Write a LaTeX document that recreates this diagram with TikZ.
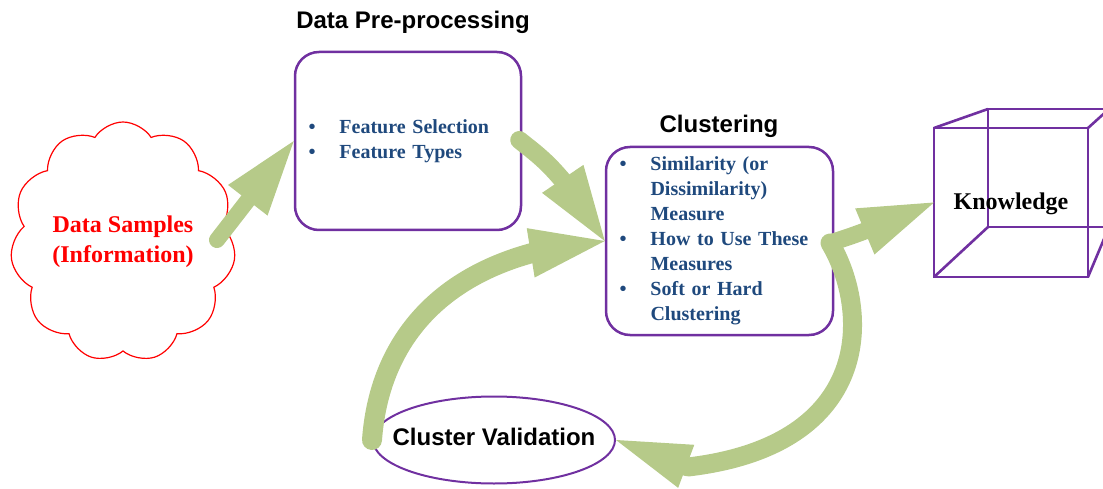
\documentclass[tikz,border=0pt]{standalone}
\usepackage{fontspec}
\setmainfont{Liberation Serif}
\newfontfamily\arialfont{Liberation Sans}
\usetikzlibrary{arrows.meta,bending,shapes.symbols,shapes.geometric,calc}
\definecolor{boxpurple}{RGB}{112,48,160}
\definecolor{txtblue}{RGB}{31,73,125}
\definecolor{arrowgreen}{RGB}{182,202,137}
\newcommand\bul{\makebox[31pt][l]{\textbullet}}
\newcommand\indt{\hspace*{31pt}}
\begin{document}
\begin{tikzpicture}[x=1pt,y=-1pt,
  box/.style={draw=boxpurple,line width=2.5pt,rounded corners=24pt,align=left,
    text=txtblue,font=\fontsize{20}{25}\selectfont\bfseries,inner xsep=13.5pt,inner ysep=0pt},
  titletext/.style={font=\arialfont\fontsize{24}{28}\selectfont\bfseries,inner sep=0pt,anchor=base},
  flow/.style={draw=arrowgreen,line cap=round,line join=round,line width=#1},
  flow/.default=18pt,
  bighead/.style={-{Triangle[length=75pt,width=50pt,line width=0pt,flex]}},
  cubeline/.style={draw=boxpurple,line width=2.6pt,line join=miter}
]
\useasboundingbox (0,0) rectangle (1103,489);
\clip (0,0) rectangle (1103,489);

% cloud
\node[cloud,draw=red,line width=1.2pt,cloud puffs=11,cloud puff arc=115,aspect=0.92,
  minimum width=221pt,minimum height=240pt,inner sep=0pt,align=center,text=red,
  font=\fontsize{24}{30}\selectfont\bfseries] (cloud) at (123,242) {Data Samples\\(Information)};

% data pre-processing
\node[box,text width=199pt,minimum height=178pt] (pre) at (408,141)
  {\bul Feature Selection\\ \bul Feature Types};
\node[titletext] (pretitle) at (413,29) {Data Pre-processing};

% clustering
\node[box,text width=200pt,minimum height=188pt] (clust) at (719.5,241)
  {\bul Similarity (or\\ \indt Dissimilarity)\\ \indt Measure\\
   \bul How to Use These\\ \indt Measures\\ \bul Soft or Hard\\ \indt Clustering};
\node[titletext] (clusttitle) at (719,133) {Clustering};

% cluster validation
\node[ellipse,draw=boxpurple,line width=2pt,minimum width=242pt,minimum height=87pt,
  inner sep=0pt,
  label={[font=\arialfont\fontsize{24}{28}\selectfont\bfseries,inner sep=0pt,yshift=2.75pt]center:Cluster Validation}]
  (valid) at (494,440) {};

% knowledge cube
\coordinate (fA) at (934,128);
\coordinate (fB) at (1088,128);
\coordinate (fC) at (1088,277);
\coordinate (fD) at (934,277);
\coordinate (bA) at (988,109);
\coordinate (bB) at (1109,109);
\coordinate (bC) at (1109,227);
\coordinate (bD) at (988,227);
\draw[cubeline] (bA) -- (bB) -- (bC) -- (bD) -- cycle;
\draw[cubeline] (fA) -- (fB) -- (fC) -- (fD) -- cycle;
\draw[cubeline] (fA) -- (bA) (fB) -- (bB) (fC) -- (bC) (fD) -- (bD);
\node[font=\fontsize{24}{28}\selectfont\bfseries,inner sep=0pt,anchor=base] (know) at (1011,210) {Knowledge};
\coordinate (kleft) at ($(fA)!0.5!(fD)$);

% arrows
\coordinate (a1s) at (217,240);
\coordinate (fork) at (830,243);
\draw[flow=16pt,bighead] (a1s) -- (pre.west);
\draw[flow=18pt,bighead] ($(pre.east)+(-3,-1)$) .. controls (540,157) and (560,168) .. (clust.west);
\draw[flow=20pt,bighead] (valid.west) .. controls (380,330) and (455,252) .. (clust.west);
\draw[flow=17pt,bighead] (fork) .. controls (855,235) and (870,230) .. (kleft);
\draw[flow=19pt,-{Triangle[length=75pt,width=46pt,line width=0pt,flex]}] (fork)
  .. controls (870,310) and (875,445) .. (688,467) -- (valid.east);
\end{tikzpicture}
\end{document}
